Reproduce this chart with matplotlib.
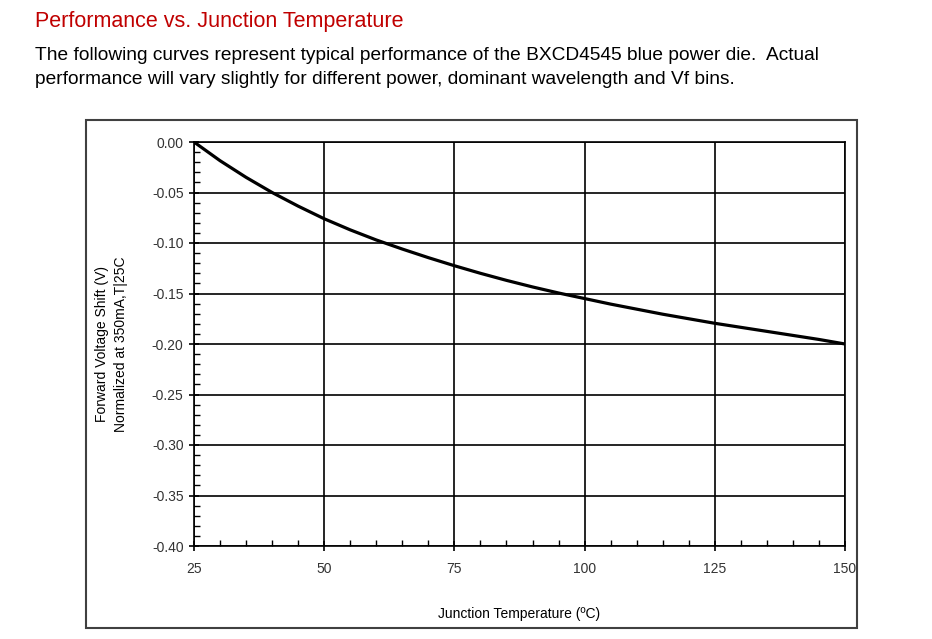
import matplotlib.pyplot as plt
from matplotlib.patches import Rectangle
from matplotlib.ticker import MultipleLocator

# Data
temp_c = [25, 30, 35, 40, 45, 50, 55, 60, 65, 70, 75, 80, 85, 90, 95,
          100, 105, 110, 115, 120, 125, 130, 135, 140, 145, 150]
vf_shift = [0.0000, -0.0185, -0.0350, -0.0500, -0.0635, -0.0760, -0.0870,
            -0.0970, -0.1060, -0.1145, -0.1225, -0.1300, -0.1370, -0.1435,
            -0.1495, -0.1550, -0.1605, -0.1655, -0.1705, -0.1750, -0.1795,
            -0.1835, -0.1875, -0.1915, -0.1955, -0.2000]

x_ticks = [25, 50, 75, 100, 125, 150]
y_ticks = [0.00, -0.05, -0.10, -0.15, -0.20, -0.25, -0.30, -0.35, -0.40]

plt.rcParams['font.family'] = ['Liberation Sans', 'DejaVu Sans']

fig = plt.figure(figsize=(9.32, 6.39), dpi=100)

# Heading and paragraph text
fig.text(35 / 932, 1 - 21 / 639, "Performance vs. Junction Temperature",
         color='#c00000', fontsize=15.5, va='center', ha='left')
fig.text(35 / 932, 1 - 56 / 639,
         "The following curves represent typical performance of the BXCD4545 blue power die.  Actual",
         color='black', fontsize=13.8, va='center', ha='left')
fig.text(35 / 932, 1 - 80 / 639,
         "performance will vary slightly for different power, dominant wavelength and Vf bins.",
         color='black', fontsize=13.8, va='center', ha='left')

# Outer frame around chart
fig.patches.append(Rectangle((86 / 932, 1 - 628 / 639), (857 - 86) / 932, (628 - 120) / 639,
                             transform=fig.transFigure, fill=False,
                             edgecolor='#404040', linewidth=1.5))

ax = fig.add_axes([194 / 932, 1 - 546 / 639, (845 - 194) / 932, (546 - 142) / 639])
ax.plot(temp_c, vf_shift, color='black', linewidth=2.3, solid_capstyle='round')

ax.set_xlim(25, 150)
ax.set_ylim(-0.40, 0.0)
ax.set_xticks(x_ticks)
ax.set_yticks(y_ticks)
ax.set_yticklabels([f"{v:.2f}" for v in y_ticks])
ax.xaxis.set_minor_locator(MultipleLocator(5))
ax.yaxis.set_minor_locator(MultipleLocator(0.01))
ax.grid(True, which='major', color='black', linewidth=1.2)

for s in ax.spines.values():
    s.set_color('black')
    s.set_linewidth(1.2)

ax.tick_params(which='major', direction='inout', length=7, width=1.2,
               labelsize=10, labelcolor='#333333', pad=8)
ax.tick_params(which='minor', direction='in', length=4, width=1.0)
ax.tick_params(axis='y', pad=4)

ax.set_xlabel("Junction Temperature (\u00baC)", fontsize=10, labelpad=22)
ax.set_ylabel("Forward Voltage Shift (V)\nNormalized at 350mA,T|25C",
              fontsize=10, labelpad=17, linespacing=1.5)

fig.savefig("out.png", dpi=100)
